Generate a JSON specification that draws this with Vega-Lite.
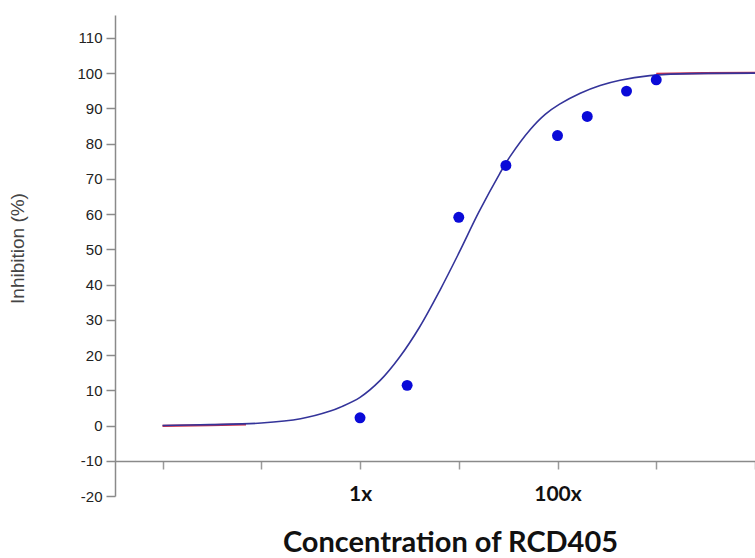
{
  "$schema": "https://vega.github.io/schema/vega-lite/v6.json",
  "autosize": "none",
  "width": 640,
  "height": 481,
  "padding": {"left": 115, "top": 15, "right": 0, "bottom": 62},
  "background": "white",
  "config": {"view": {"stroke": null}},
  "datasets": {
    "fit": [
      {"conc": 0.01, "inh": 0.0},
      {"conc": 0.03, "inh": 0.25},
      {"conc": 0.1, "inh": 0.7},
      {"conc": 0.25, "inh": 1.9},
      {"conc": 0.5, "inh": 4.1},
      {"conc": 0.63, "inh": 5.2},
      {"conc": 1, "inh": 8.0},
      {"conc": 1.6, "inh": 12.8},
      {"conc": 2.5, "inh": 19.3},
      {"conc": 4, "inh": 27.9},
      {"conc": 6.5, "inh": 38.6},
      {"conc": 10, "inh": 48.9},
      {"conc": 16, "inh": 60.6},
      {"conc": 26, "inh": 71.5},
      {"conc": 33, "inh": 76.3},
      {"conc": 53, "inh": 84.0},
      {"conc": 75, "inh": 88.3},
      {"conc": 105, "inh": 91.2},
      {"conc": 170, "inh": 94.3},
      {"conc": 270, "inh": 96.5},
      {"conc": 430, "inh": 98.0},
      {"conc": 860, "inh": 99.3},
      {"conc": 1730, "inh": 99.8},
      {"conc": 10000, "inh": 100.0}
    ],
    "fit2": [
      {"seg": "low", "conc": 0.01, "inh": -0.1},
      {"seg": "low", "conc": 0.03, "inh": 0.1},
      {"seg": "low", "conc": 0.07, "inh": 0.35},
      {"seg": "high", "conc": 1000, "inh": 99.8},
      {"seg": "high", "conc": 3000, "inh": 100.0},
      {"seg": "high", "conc": 10000, "inh": 100.1}
    ],
    "obs": [
      {"conc": 1, "inh": 2.2},
      {"conc": 3, "inh": 11.4},
      {"conc": 10, "inh": 59.1},
      {"conc": 30, "inh": 73.8},
      {"conc": 100, "inh": 82.3},
      {"conc": 200, "inh": 87.7},
      {"conc": 500, "inh": 94.9},
      {"conc": 1000, "inh": 98.1}
    ]
  },
  "encoding": {
    "x": {
      "field": "conc",
      "type": "quantitative",
      "scale": {"type": "log", "domain": [0.0033, 10000], "nice": false},
      "axis": {
        "orient": "bottom",
        "offset": -35,
        "values": [0.01, 0.1, 1, 10, 100, 1000, 10000],
        "labelExpr": "datum.value == 1 ? '1x' : (datum.value == 100 ? '100x' : '')",
        "grid": false,
        "domainColor": "#8a8a8a",
        "domainWidth": 1.5,
        "tickColor": "#9a9a9a",
        "tickWidth": 1.5,
        "tickSize": 8,
        "labelFont": "Lato",
        "labelFontWeight": "bold",
        "labelFontSize": 21,
        "labelColor": "#111111",
        "labelPadding": 14,
        "labelFlush": false,
        "labelOverlap": false,
        "title": "Concentration of RCD405",
        "titleFont": "Lato",
        "titleFontWeight": "bold",
        "titleFontSize": 29,
        "titleColor": "#111111",
        "titleBaseline": "top",
        "titleX": 335,
        "titleY": 67
      }
    },
    "y": {
      "field": "inh",
      "type": "quantitative",
      "scale": {"domain": [-20, 116.5], "nice": false, "zero": false},
      "axis": {
        "values": [-20, -10, 0, 10, 20, 30, 40, 50, 60, 70, 80, 90, 100, 110],
        "labelExpr": "replace(datum.label, '\u2212', '-')",
        "grid": false,
        "domainColor": "#8a8a8a",
        "domainWidth": 1.5,
        "tickColor": "#8a8a8a",
        "tickWidth": 1.5,
        "tickSize": 9,
        "labelFont": "Liberation Sans",
        "labelFontSize": 15,
        "labelColor": "#222222",
        "labelPadding": 4,
        "title": "Inhibition (%)",
        "titleFont": "Liberation Sans",
        "titleFontWeight": "normal",
        "titleFontSize": 19,
        "titleColor": "#444444",
        "titleX": -88,
        "titleY": 233
      }
    }
  },
  "layer": [
    {
      "data": {"name": "fit2"},
      "mark": {"type": "line", "color": "#d0304a", "strokeWidth": 2.2, "interpolate": "monotone"},
      "encoding": {"detail": {"field": "seg"}}
    },
    {
      "data": {"name": "fit"},
      "mark": {"type": "line", "color": "#34349a", "strokeWidth": 1.6, "interpolate": "catmull-rom"},
      "encoding": {}
    },
    {
      "data": {"name": "obs"},
      "mark": {"type": "circle", "color": "#0a0ad8", "opacity": 1, "size": 120},
      "encoding": {}
    }
  ]
}
